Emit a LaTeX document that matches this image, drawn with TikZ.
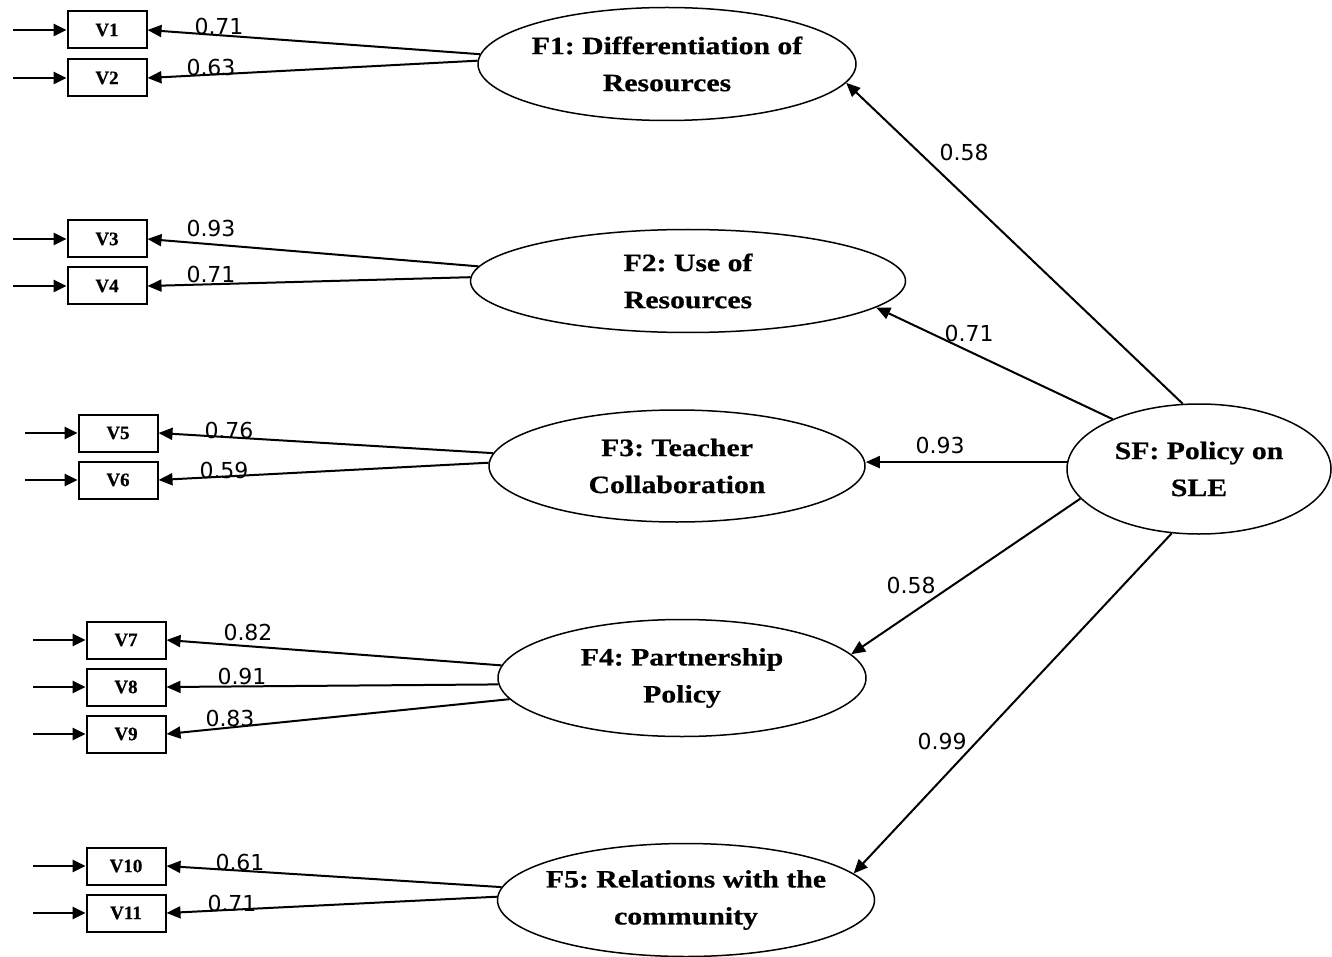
\documentclass[tikz,border=0pt]{standalone}
\usepackage{fontspec}
\setmainfont{Liberation Serif}
\newfontfamily\elfont[FakeStretch=1.19,FakeBold=0.6]{Liberation Serif}
\newfontfamily\bxfont[FakeBold=0.6]{Liberation Serif}
\newfontfamily\lbfont{DejaVu Sans}
\usetikzlibrary{arrows.meta,shapes.geometric}
\frenchspacing
\begin{document}
\begin{tikzpicture}[x=1pt,y=-1pt,
  latent/.style={ellipse, draw, line width=1.5pt, inner sep=-18pt, align=center,
    font=\elfont\bfseries\fontsize{25}{37}\selectfont},
  obs/.style={rectangle, draw, line width=2pt, minimum width=79pt, minimum height=37pt,
    inner sep=0pt, font=\bxfont\bfseries\fontsize{19}{22}\selectfont},
  load/.style={line width=2pt, -{Triangle[length=14pt,width=12pt]}},
  inarr/.style={line width=2.6pt, -{Triangle[length=13pt,width=12pt]}},
  sfpath/.style={line width=2pt, -{Triangle[length=14pt,width=12pt]}},
  lbl/.style={font=\lbfont\fontsize{22}{26}\selectfont, inner sep=0pt}
]
\useasboundingbox (0,0) rectangle (1332,957);

% latent factors
\node[latent, minimum width=378pt, minimum height=113pt] (F1) at (667,64) {F1: Differentiation of\\Resources};
\node[latent, minimum width=435pt, minimum height=103pt] (F2) at (688,281) {F2: Use of\\Resources};
\node[latent, minimum width=376pt, minimum height=112pt] (F3) at (677,466) {F3: Teacher\\Collaboration};
\node[latent, minimum width=368pt, minimum height=117pt] (F4) at (682,678) {F4: Partnership\\Policy};
\node[latent, minimum width=377pt, minimum height=113pt] (F5) at (686,900) {F5: Relations with the\\community};
\node[latent, minimum width=264pt, minimum height=130pt] (SF) at (1199,469) {SF: Policy on\\SLE};

% observed variables
\node[obs] (V1) at (107,30) {V1};
\node[obs] (V2) at (107,78) {V2};
\node[obs] (V3) at (107,239) {V3};
\node[obs] (V4) at (107,286) {V4};
\node[obs] (V5) at (118,433) {V5};
\node[obs] (V6) at (118,480) {V6};
\node[obs] (V7) at (126,640) {V7};
\node[obs] (V8) at (126,687) {V8};
\node[obs] (V9) at (126,734) {V9};
\node[obs] (V10) at (126,866) {V10};
\node[obs] (V11) at (126,913) {V11};

% error inputs
\coordinate (e1) at (13,30);
\coordinate (e2) at (13,78);
\coordinate (e3) at (13,239);
\coordinate (e4) at (13,286);
\coordinate (e5) at (25,433);
\coordinate (e6) at (25,480);
\coordinate (e7) at (33,640);
\coordinate (e8) at (33,687);
\coordinate (e9) at (33,734);
\coordinate (e10) at (33,866);
\coordinate (e11) at (33,913);
\foreach \i in {1,...,11} { \draw[inarr] (e\i) -- (V\i); }

% loadings
\draw[load] (F1.177.3) -- (V1.east);
\draw[load] (F1.179.4) -- (V2.east);
\draw[load] (F2.176.3) -- (V3.east);
\draw[load] (F2.179.2) -- (V4.east);
\draw[load] (F3.176.6) -- (V5.east);
\draw[load] (F3.179.7) -- (V6.east);
\draw[load] (F4.176.9) -- (V7.east);
\draw[load] (F4.182.5) -- (V8.east);
\draw[load] (F4.187.2) -- (V9.east);
\draw[load] (F5.176.6) -- (V10.east);
\draw[load] (F5.179.4) -- (V11.east);

% second-order paths
\draw[sfpath] (SF.104.5) -- (F1.354.4);
\draw[sfpath] (SF.150.8) -- (F2.352.2);
\draw[sfpath] (SF.177.4) -- (SF.177.4 -| F3.east);
\draw[sfpath] (SF.194.6) -- (F4.8.8);
\draw[sfpath] (SF.247.8) -- (F5.9.4);

% labels
\node[lbl] (l1) at (219,26.5) {0.71};
\node[lbl] (l2) at (211,67.5) {0.63};
\node[lbl] (l3) at (211,228) {0.93};
\node[lbl] (l4) at (211,274) {0.71};
\node[lbl] (l5) at (229,430) {0.76};
\node[lbl] (l6) at (224,470) {0.59};
\node[lbl] (l7) at (248,632) {0.82};
\node[lbl] (l8) at (242,676) {0.91};
\node[lbl] (l9) at (230,718) {0.83};
\node[lbl] (l10) at (240,862) {0.61};
\node[lbl] (l11) at (232,903) {0.71};
\node[lbl] (s1) at (964,152) {0.58};
\node[lbl] (s2) at (969,333) {0.71};
\node[lbl] (s3) at (940,445) {0.93};
\node[lbl] (s4) at (911,585) {0.58};
\node[lbl] (s5) at (942,741) {0.99};
\end{tikzpicture}
\end{document}
